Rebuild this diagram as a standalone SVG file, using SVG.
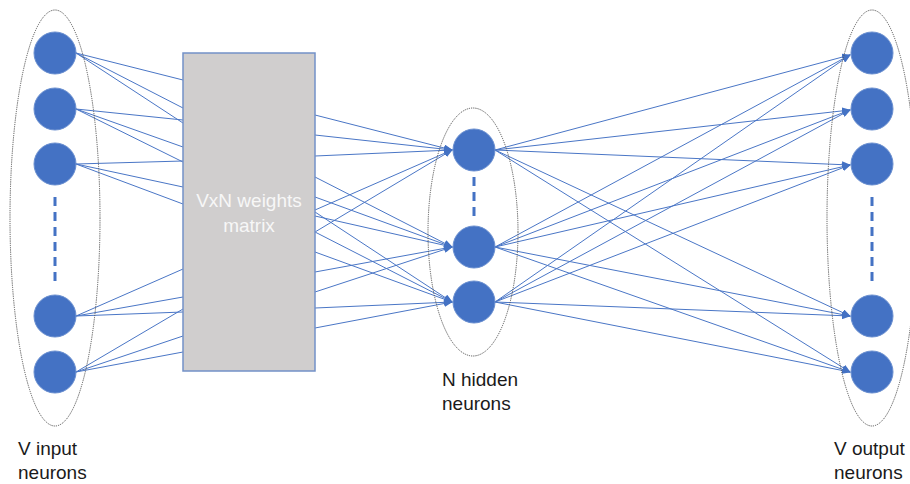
<svg xmlns="http://www.w3.org/2000/svg" width="910" height="484" viewBox="0 0 910 484">
<defs>
<style>
.neuron{fill:#4472c4;stroke:#6a8fd0;stroke-width:1}
.group{fill:none;stroke:#555;stroke-width:1;stroke-dasharray:1.2 1}
.dash{stroke:#4472c4;stroke-width:3;stroke-dasharray:9 6}
.edge{stroke:#4a76c6;stroke-width:1;fill:none}
.arr{marker-end:url(#ah)}
.lbl{font-family:"Liberation Sans",Arial,sans-serif;font-size:19px;fill:#1a1a1a}
.mtx{font-family:"Liberation Sans",Arial,sans-serif;font-size:19px;fill:#f7f7f7;text-anchor:middle}
</style>
<marker id="ah" markerWidth="9" markerHeight="7" refX="8" refY="3.5" orient="auto" markerUnits="userSpaceOnUse">
<path d="M0,0 L9,3.5 L0,7 z" fill="#4472c4"/>
</marker>
</defs>
<rect width="910" height="484" fill="#fff"/>

<g id="connectors">
<!-- input to matrix -->
<line class="edge" x1="76" y1="53" x2="183" y2="80"/>
<line class="edge" x1="76" y1="53" x2="183" y2="108"/>
<line class="edge" x1="76" y1="53" x2="183" y2="123"/>
<line class="edge" x1="76" y1="109" x2="183" y2="120"/>
<line class="edge" x1="76" y1="109" x2="183" y2="147"/>
<line class="edge" x1="76" y1="109" x2="183" y2="162"/>
<line class="edge" x1="76" y1="164" x2="183" y2="161"/>
<line class="edge" x1="76" y1="164" x2="183" y2="187"/>
<line class="edge" x1="76" y1="164" x2="183" y2="204"/>
<line class="edge" x1="76" y1="316" x2="183" y2="269"/>
<line class="edge" x1="76" y1="316" x2="183" y2="297"/>
<line class="edge" x1="76" y1="316" x2="183" y2="312"/>
<line class="edge" x1="76" y1="372" x2="183" y2="309"/>
<line class="edge" x1="76" y1="372" x2="183" y2="336"/>
<line class="edge" x1="76" y1="372" x2="183" y2="352"/>
<!-- matrix to hidden -->
<line class="edge arr" x1="315" y1="115" x2="452" y2="150"/>
<line class="edge arr" x1="315" y1="135" x2="452" y2="150"/>
<line class="edge arr" x1="315" y1="156" x2="452" y2="150"/>
<line class="edge arr" x1="315" y1="210" x2="452" y2="150"/>
<line class="edge arr" x1="315" y1="232" x2="452" y2="150"/>
<line class="edge arr" x1="315" y1="177" x2="452" y2="247"/>
<line class="edge arr" x1="315" y1="197" x2="452" y2="247"/>
<line class="edge arr" x1="315" y1="216" x2="452" y2="247"/>
<line class="edge arr" x1="315" y1="272" x2="452" y2="247"/>
<line class="edge arr" x1="315" y1="292" x2="452" y2="247"/>
<line class="edge arr" x1="315" y1="212" x2="452" y2="302"/>
<line class="edge arr" x1="315" y1="232" x2="452" y2="302"/>
<line class="edge arr" x1="315" y1="252" x2="452" y2="302"/>
<line class="edge arr" x1="315" y1="308" x2="452" y2="302"/>
<line class="edge arr" x1="315" y1="328" x2="452" y2="302"/>
<!-- hidden to output -->
<line class="edge arr" x1="495" y1="150" x2="850" y2="55"/>
<line class="edge arr" x1="495" y1="150" x2="850" y2="110"/>
<line class="edge arr" x1="495" y1="150" x2="850" y2="165"/>
<line class="edge arr" x1="495" y1="150" x2="850" y2="316"/>
<line class="edge arr" x1="495" y1="150" x2="850" y2="372"/>
<line class="edge arr" x1="495" y1="247" x2="850" y2="55"/>
<line class="edge arr" x1="495" y1="247" x2="850" y2="110"/>
<line class="edge arr" x1="495" y1="247" x2="850" y2="165"/>
<line class="edge arr" x1="495" y1="247" x2="850" y2="316"/>
<line class="edge arr" x1="495" y1="247" x2="850" y2="372"/>
<line class="edge arr" x1="495" y1="302" x2="850" y2="55"/>
<line class="edge arr" x1="495" y1="302" x2="850" y2="110"/>
<line class="edge arr" x1="495" y1="302" x2="850" y2="165"/>
<line class="edge arr" x1="495" y1="302" x2="850" y2="316"/>
<line class="edge arr" x1="495" y1="302" x2="850" y2="372"/>
</g>

<g id="input-layer">
<ellipse class="group" cx="55" cy="218" rx="45" ry="208"/>
<circle class="neuron" cx="55" cy="53" r="21"/>
<circle class="neuron" cx="55" cy="109" r="21"/>
<circle class="neuron" cx="55" cy="164" r="21"/>
<line class="dash" x1="55" y1="197" x2="55" y2="282"/>
<circle class="neuron" cx="55" cy="316" r="21"/>
<circle class="neuron" cx="55" cy="372" r="21"/>
<text class="lbl" x="18" y="455">V input</text>
<text class="lbl" x="18" y="479">neurons</text>
</g>

<g id="weights-matrix">
<rect x="183" y="53" width="132" height="318" fill="#d0cece" stroke="#7391c8" stroke-width="1.5"/>
<text class="mtx" x="249" y="207">VxN weights</text>
<text class="mtx" x="249" y="232">matrix</text>
</g>

<g id="hidden-layer">
<ellipse class="group" cx="473" cy="232" rx="45" ry="124"/>
<circle class="neuron" cx="474" cy="150" r="21"/>
<line class="dash" x1="474" y1="177" x2="474" y2="218"/>
<circle class="neuron" cx="474" cy="247" r="21"/>
<circle class="neuron" cx="474" cy="302" r="21"/>
<text class="lbl" x="442" y="386">N hidden</text>
<text class="lbl" x="442" y="410">neurons</text>
</g>

<g id="output-layer">
<ellipse class="group" cx="872" cy="218" rx="45" ry="208"/>
<circle class="neuron" cx="872" cy="53" r="21"/>
<circle class="neuron" cx="872" cy="109" r="21"/>
<circle class="neuron" cx="872" cy="164" r="21"/>
<line class="dash" x1="872" y1="197" x2="872" y2="282"/>
<circle class="neuron" cx="872" cy="316" r="21"/>
<circle class="neuron" cx="872" cy="372" r="21"/>
<text class="lbl" x="834" y="455">V output</text>
<text class="lbl" x="834" y="479">neurons</text>
</g>
</svg>
